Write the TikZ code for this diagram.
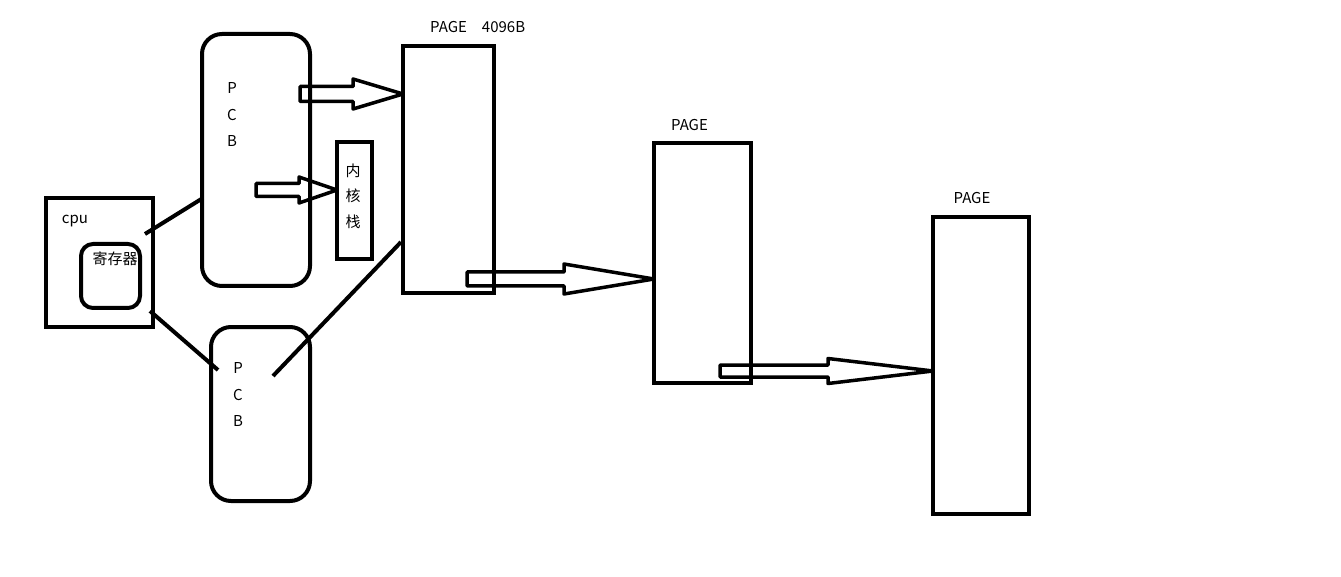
\documentclass[tikz,border=0pt]{standalone}
\usepackage{fontspec}
\setmainfont{Noto Sans CJK SC}
\usetikzlibrary{calc, positioning}

% hollow block arrow: start, end, shaft half width, head half width, head length
\newcommand{\hollowarrow}[5]{%
  \draw[blockarrow] let \p1=(#1), \p2=(#2) in
    (\x1,\y1+#3) -- (\x2-#5,\y1+#3) -- (\x2-#5,\y1+#4) -- (\x2,\y1)
    -- (\x2-#5,\y1-#4) -- (\x2-#5,\y1-#3) -- (\x1,\y1-#3) -- cycle;}

\begin{document}
\begin{tikzpicture}[
    x=1pt, y=-1pt,
    box/.style={draw, line width=4pt, inner sep=0pt, outer sep=0pt},
    pcbbox/.style={box, rounded corners=20pt},
    blockarrow/.style={draw, line width=3.5pt, line join=round},
    link/.style={draw, line width=4pt},
    lbl/.style={font=\fontsize{15}{26.5}\selectfont, inner sep=0pt, align=center}
]
    \useasboundingbox (0,0) rectangle (1341,577);

    % CPU and registers
    \node[box, minimum width=107pt, minimum height=129pt] (cpu) at (99.5,262.5) {};
    \node[box, rounded corners=12pt, minimum width=59pt, minimum height=64pt] (reg) at (110.5,276) {};
    \node[lbl] (cpulbl) at (75,221) {cpu};
    \node[lbl] (reglbl) at (115,259) {寄存器};

    % PCBs
    \node[pcbbox, minimum width=108pt, minimum height=252pt] (pcb1) at (256,160) {};
    \node[pcbbox, minimum width=99pt, minimum height=174pt] (pcb2) at (260.5,414) {};
    \node[lbl] (pcb1lbl) at (232,115) {P\\C\\B};
    \node[lbl] (pcb2lbl) at (238,395) {P\\C\\B};

    % kernel stack
    \node[box, minimum width=35pt, minimum height=117pt] (kstack) at (354.5,200.5) {};
    \node[lbl, font=\fontsize{15}{25.5}\selectfont] (kstacklbl) at (353,196) {内\\核\\栈};

    % pages
    \node[box, minimum width=91pt, minimum height=247pt] (page1) at (448.5,169.5) {};
    \node[box, minimum width=97pt, minimum height=240pt] (page2) at (702.5,263) {};
    \node[box, minimum width=96pt, minimum height=297pt] (page3) at (981,365.5) {};
    \node[lbl, anchor=west] (page1lbl) at (430,27) {PAGE\hspace{15pt}4096B};
    \node[lbl] (page2lbl) at (689.5,125) {PAGE};
    \node[lbl] (page3lbl) at (972,198) {PAGE};

    % links
    \draw[link] ([shift={(-8,-28.5)}]cpu.east) -- ([shift={(1,38)}]pcb1.west);
    \draw[link] ([shift={(-3,48.5)}]cpu.east) -- ([shift={(7,-44)}]pcb2.west);
    \draw[link] ([shift={(12.5,-38)}]pcb2.center) -- ([shift={(-2,72.5)}]page1.west);

    % block arrows
    \coordinate (a1) at ([shift={(-10,-66)}]pcb1.east);
    \coordinate (a2) at ([shift={(0,30)}]pcb1.center);
    \coordinate (a3) at ([shift={(-27,-14)}]page1.south east);
    \coordinate (a4) at ([shift={(-31,-12)}]page2.south east);
    \hollowarrow{a1}{page1.west |- a1}{7.5pt}{15pt}{50pt}
    \hollowarrow{a2}{kstack.west |- a2}{6.5pt}{13pt}{38pt}
    \hollowarrow{a3}{page2.west |- a3}{7pt}{15pt}{90pt}
    \hollowarrow{a4}{page3.west |- a4}{6pt}{12.5pt}{105pt}
\end{tikzpicture}
\end{document}
